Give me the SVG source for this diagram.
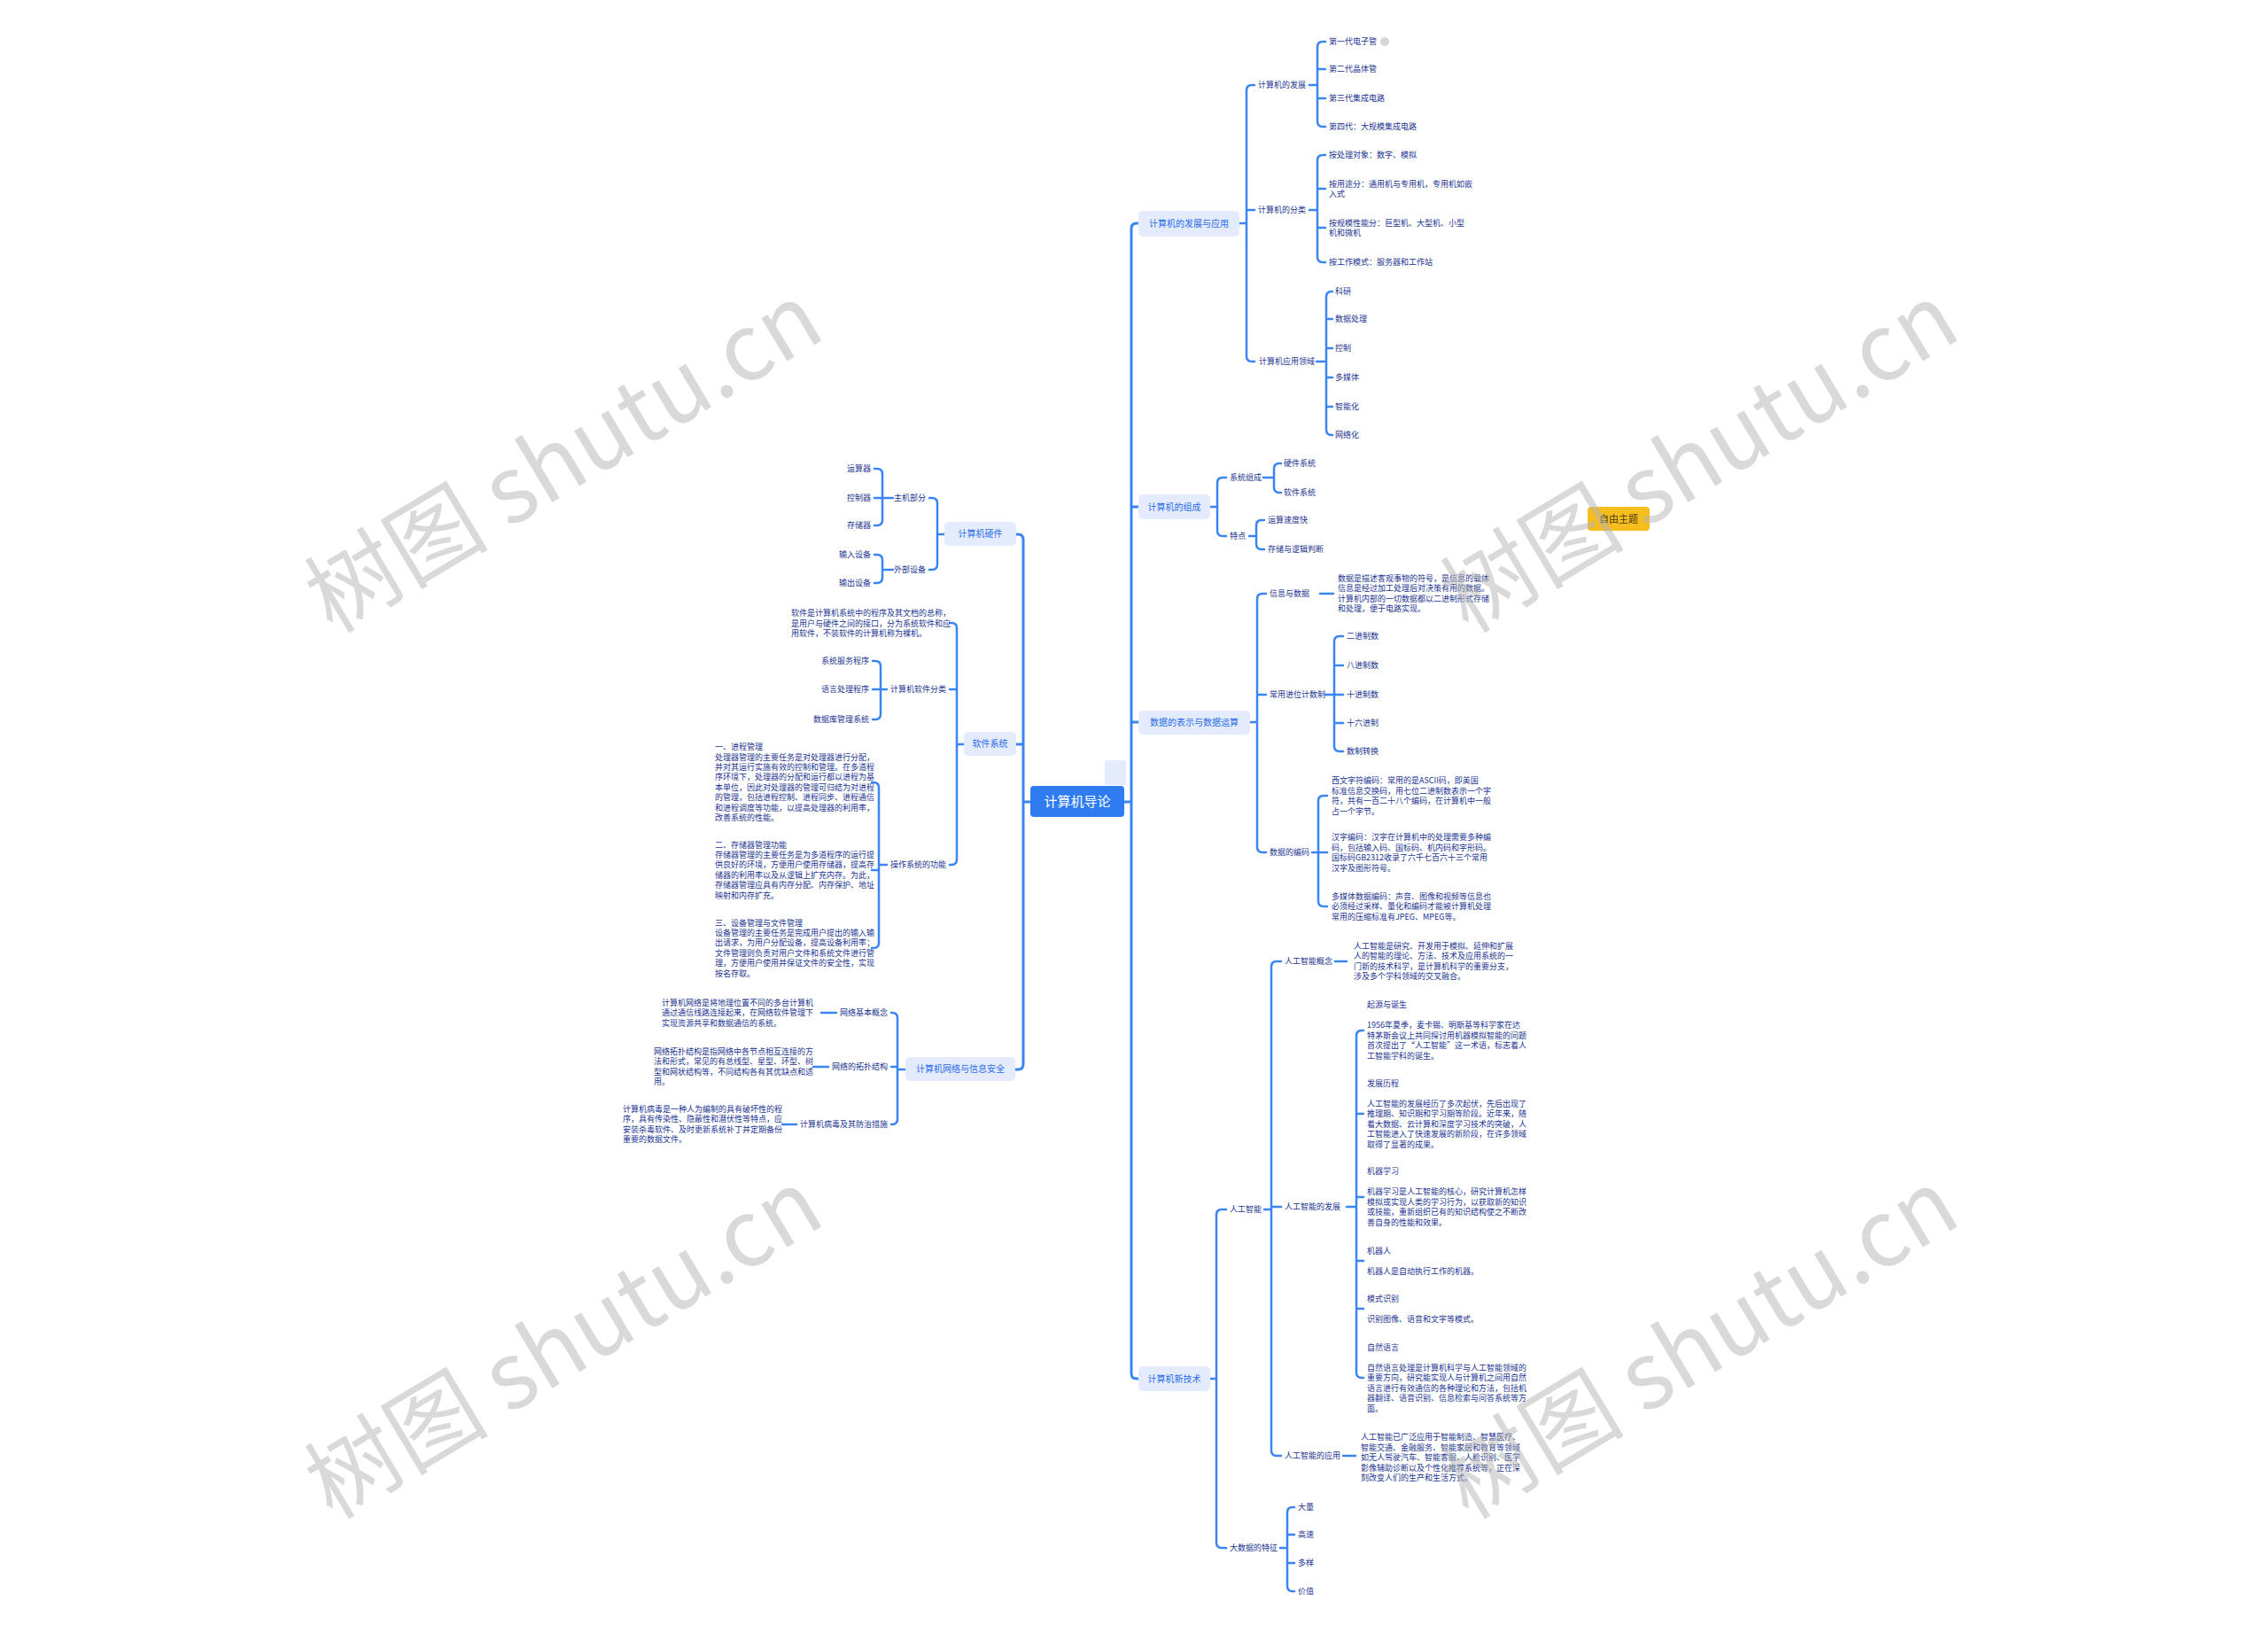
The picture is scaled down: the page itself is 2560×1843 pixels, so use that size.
<svg xmlns="http://www.w3.org/2000/svg" width="2560" height="1843" viewBox="0 0 2560 1843">
<style>
.ln{fill:none;stroke:#3b85f2;stroke-width:2.5;stroke-linecap:round;stroke-linejoin:round}
.tr{stroke-width:3}
text{font-family:"Noto Sans CJK SC","Noto Sans",sans-serif}
.t{font-size:9px;fill:#1c3490}
.t1{font-size:10px;fill:#2c6de6}
.box{fill:#e3ebfd}
.e{text-anchor:end}
.m{text-anchor:middle}
.wm{font-size:104px;fill:#b4b4b4;fill-opacity:.5;text-anchor:middle}
</style>
<rect width="2560" height="1843" fill="#ffffff"/>
<g id="connectors">
<path class="ln tr" d="M1163,905 H1155 M1147,603 H1149 Q1155,603 1155,609 V1201 Q1155,1207 1149,1207 H1146 M1147,840 H1155"/>
<path class="ln tr" d="M1269,905 H1277 M1285,252 H1283 Q1277,252 1277,258 V1550 Q1277,1556 1283,1556 H1285 M1277,572 H1285 M1277,815 H1285"/>
<path class="ln" d="M1399,252 H1407 M1416,96 H1413 Q1407,96 1407,102 V402 Q1407,408 1413,408 H1416 M1407,237 H1416"/>
<path class="ln" d="M1478,96 H1487 M1496,47 H1493 Q1487,47 1487,53 V137 Q1487,143 1493,143 H1496 M1487,78 H1496 M1487,111 H1496"/>
<path class="ln" d="M1478,237 H1487 M1496,175 H1493 Q1487,175 1487,181 V290 Q1487,296 1493,296 H1496 M1487,213 H1496 M1487,257 H1496"/>
<path class="ln" d="M1486,408 H1497 M1504,329 H1503 Q1497,329 1497,335 V485 Q1497,491 1503,491 H1504 M1497,360 H1504 M1497,393 H1504 M1497,426 H1504 M1497,459 H1504"/>
<path class="ln" d="M1366,572 H1374 M1384,539 H1380 Q1374,539 1374,545 V599 Q1374,605 1380,605 H1384"/>
<path class="ln" d="M1426,539 H1438 M1446,523 H1444 Q1438,523 1438,529 V550 Q1438,556 1444,556 H1446"/>
<path class="ln" d="M1410,605 H1418 M1427,587 H1424 Q1418,587 1418,593 V614 Q1418,620 1424,620 H1427"/>
<path class="ln" d="M1411,815 H1419 M1429,670 H1425 Q1419,670 1419,676 V956 Q1419,962 1425,962 H1429 M1419,784 H1429"/>
<path class="ln" d="M1490,670 H1505"/>
<path class="ln" d="M1496,784 H1516 M1516,718 H1512 Q1506,718 1506,724 V842 Q1506,848 1512,848 H1516 M1506,751 H1516 M1506,816 H1516"/>
<path class="ln" d="M1481,962 H1498 M1498,898 H1494 Q1488,898 1488,904 V1017 Q1488,1023 1494,1023 H1498"/>
<path class="ln" d="M1366,1556 H1373 M1384,1365 H1379 Q1373,1365 1373,1371 V1741 Q1373,1747 1379,1747 H1384"/>
<path class="ln" d="M1427,1365 H1435 M1446,1085 H1441 Q1435,1085 1435,1091 V1637 Q1435,1643 1441,1643 H1446 M1435,1362 H1446"/>
<path class="ln" d="M1507,1085 H1520"/>
<path class="ln" d="M1520,1362 H1531 M1539,1163 H1537 Q1531,1163 1531,1169 V1549 Q1531,1555 1537,1555 H1539 M1531,1257 H1539 M1531,1351 H1539 M1531,1423 H1539 M1531,1477 H1539"/>
<path class="ln" d="M1516,1643 H1530"/>
<path class="ln" d="M1445,1747 H1453 M1461,1701 H1459 Q1453,1701 1453,1707 V1790 Q1453,1796 1459,1796 H1461 M1453,1732 H1461 M1453,1764 H1461"/>
<path class="ln" d="M1066,603 H1058 M1049,562 H1052 Q1058,562 1058,568 V637 Q1058,643 1052,643 H1049"/>
<path class="ln" d="M1008,562 H987 M987,529 H990 Q996,529 996,535 V587 Q996,593 990,593 H987"/>
<path class="ln" d="M1008,643 H996 M987,626 H990 Q996,626 996,632 V652 Q996,658 990,658 H987"/>
<path class="ln" d="M1088,840 H1080 M1072,703 H1074 Q1080,703 1080,709 V970 Q1080,976 1074,976 H1072 M1080,778 H1072"/>
<path class="ln" d="M1001,778 H985 M985,746 H988 Q994,746 994,752 V806 Q994,812 988,812 H985"/>
<path class="ln" d="M1001,976 H992 M984,883 H986 Q992,883 992,889 V1064 Q992,1070 986,1070 H984 M992,982 H984"/>
<path class="ln" d="M1022,1207 H1013 M1006,1143 H1007 Q1013,1143 1013,1149 V1263 Q1013,1269 1007,1269 H1006 M1013,1204 H1006"/>
<path class="ln" d="M944,1143 H927 M935,1204 H918 M899,1269 H883"/>
</g>

<g id="root">
<rect x="1247" y="858" width="24" height="28" rx="3" fill="#e3ebfd"/>
<rect x="1163" y="887" width="106" height="35" rx="4" fill="#2f7cf0"/>
<text class="m" x="1216" y="910.3" font-size="15" fill="#ffffff">计算机导论</text>
</g>

<g id="b1"><rect class="box" x="1285" y="238" width="114" height="29" rx="5"/><text class="t1 m" x="1342" y="255.5">计算机的发展与应用</text></g>
<g id="b1-c1"><text class="t" x="1420" y="99">计算机的发展</text></g>
<g id="b1-c1-l"><text class="t" x="1500" y="50">第一代电子管</text><circle cx="1563" cy="47" r="5" fill="#d6d6d6"/>
<text class="t" x="1500" y="81">第二代晶体管</text>
<text class="t" x="1500" y="114">第三代集成电路</text>
<text class="t" x="1500" y="146">第四代：大规模集成电路</text></g>
<g id="b1-c2"><text class="t" x="1420" y="240">计算机的分类</text></g>
<g id="b1-c2-l"><text class="t" x="1500" y="178">按处理对象：数字、模拟</text>
<text class="t" x="1500" y="210.5">按用途分：通用机与专用机，专用机如嵌<tspan x="1500" dy="11.5">入式</tspan></text>
<text class="t" x="1500" y="254.5">按规模性能分：巨型机、大型机、小型<tspan x="1500" dy="11.5">机和微机</tspan></text>
<text class="t" x="1500" y="299">按工作模式：服务器和工作站</text></g>
<g id="b1-c3"><text class="t" x="1421" y="411">计算机应用领域</text></g>
<g id="b1-c3-l"><text class="t" x="1507" y="332">科研</text>
<text class="t" x="1507" y="363">数据处理</text>
<text class="t" x="1507" y="396">控制</text>
<text class="t" x="1507" y="429">多媒体</text>
<text class="t" x="1507" y="462">智能化</text>
<text class="t" x="1507" y="494">网络化</text></g>

<g id="b2"><rect class="box" x="1285" y="558" width="81" height="28" rx="5"/><text class="t1 m" x="1325.5" y="575.5">计算机的组成</text></g>
<g id="b2-c1"><text class="t" x="1388" y="542">系统组成</text>
<text class="t" x="1449" y="526">硬件系统</text>
<text class="t" x="1449" y="559">软件系统</text></g>
<g id="b2-c2"><text class="t" x="1388" y="608">特点</text>
<text class="t" x="1431" y="590">运算速度快</text>
<text class="t" x="1431" y="623">存储与逻辑判断</text></g>
<g id="tag"><rect x="1792" y="572" width="70" height="27" rx="4" fill="#f6bd1f"/><text class="m" x="1827" y="589.5" font-size="11" fill="#4a3b10">自由主题</text></g>

<g id="b3"><rect class="box" x="1285" y="802" width="126" height="27" rx="5"/><text class="t1 m" x="1348" y="818.5">数据的表示与数据运算</text></g>
<g id="b3-c1"><text class="t" x="1433" y="673">信息与数据</text>
<text class="t" x="1510" y="655.5">数据是描述客观事物的符号，是信息的载体<tspan x="1510" dy="11.5">信息是经过加工处理后对决策有用的数据。</tspan><tspan x="1510" dy="11.5">计算机内部的一切数据都以二进制形式存储</tspan><tspan x="1510" dy="11.5">和处理，便于电路实现。</tspan></text></g>
<g id="b3-c2"><text class="t" x="1433" y="787">常用进位计数制</text>
<text class="t" x="1520" y="721">二进制数</text>
<text class="t" x="1520" y="754">八进制数</text>
<text class="t" x="1520" y="787">十进制数</text>
<text class="t" x="1520" y="819">十六进制</text>
<text class="t" x="1520" y="851">数制转换</text></g>
<g id="b3-c3"><text class="t" x="1433" y="965">数据的编码</text>
<text class="t" x="1503" y="884">西文字符编码：常用的是ASCII码，即美国<tspan x="1503" dy="11.5">标准信息交换码，用七位二进制数表示一个字</tspan><tspan x="1503" dy="11.5">符，共有一百二十八个编码，在计算机中一般</tspan><tspan x="1503" dy="11.5">占一个字节。</tspan></text>
<text class="t" x="1503" y="948">汉字编码：汉字在计算机中的处理需要多种编<tspan x="1503" dy="11.5">码，包括输入码、国标码、机内码和字形码。</tspan><tspan x="1503" dy="11.5">国标码GB2312收录了六千七百六十三个常用</tspan><tspan x="1503" dy="11.5">汉字及图形符号。</tspan></text>
<text class="t" x="1503" y="1014.5">多媒体数据编码：声音、图像和视频等信息也<tspan x="1503" dy="11.5">必须经过采样、量化和编码才能被计算机处理</tspan><tspan x="1503" dy="11.5">常用的压缩标准有JPEG、MPEG等。</tspan></text></g>

<g id="b4"><rect class="box" x="1285" y="1542" width="81" height="28" rx="5"/><text class="t1 m" x="1325.5" y="1559.5">计算机新技术</text></g>
<g id="b4-ai"><text class="t" x="1388" y="1368">人工智能</text></g>
<g id="b4-ai-a"><text class="t" x="1450" y="1088">人工智能概念</text>
<text class="t" x="1528" y="1070.5">人工智能是研究、开发用于模拟、延伸和扩展<tspan x="1528" dy="11.5">人的智能的理论、方法、技术及应用系统的一</tspan><tspan x="1528" dy="11.5">门新的技术科学，是计算机科学的重要分支，</tspan><tspan x="1528" dy="11.5">涉及多个学科领域的交叉融合。</tspan></text></g>
<g id="b4-ai-b"><text class="t" x="1450" y="1365">人工智能的发展</text>
<text class="t" x="1543" y="1137.3">起源与诞生<tspan x="1543" dy="23">1956年夏季，麦卡锡、明斯基等科学家在达</tspan><tspan x="1543" dy="11.5">特茅斯会议上共同探讨用机器模拟智能的问题</tspan><tspan x="1543" dy="11.5">首次提出了“人工智能”这一术语，标志着人</tspan><tspan x="1543" dy="11.5">工智能学科的诞生。</tspan></text>
<text class="t" x="1543" y="1225.5">发展历程<tspan x="1543" dy="23">人工智能的发展经历了多次起伏，先后出现了</tspan><tspan x="1543" dy="11.5">推理期、知识期和学习期等阶段。近年来，随</tspan><tspan x="1543" dy="11.5">着大数据、云计算和深度学习技术的突破，人</tspan><tspan x="1543" dy="11.5">工智能进入了快速发展的新阶段，在许多领域</tspan><tspan x="1543" dy="11.5">取得了显著的成果。</tspan></text>
<text class="t" x="1543" y="1325.3">机器学习<tspan x="1543" dy="23">机器学习是人工智能的核心，研究计算机怎样</tspan><tspan x="1543" dy="11.5">模拟或实现人类的学习行为，以获取新的知识</tspan><tspan x="1543" dy="11.5">或技能，重新组织已有的知识结构使之不断改</tspan><tspan x="1543" dy="11.5">善自身的性能和效果。</tspan></text>
<text class="t" x="1543" y="1414.5">机器人<tspan x="1543" dy="23">机器人是自动执行工作的机器。</tspan></text>
<text class="t" x="1543" y="1468.5">模式识别<tspan x="1543" dy="23">识别图像、语音和文字等模式。</tspan></text>
<text class="t" x="1543" y="1523.5">自然语言<tspan x="1543" dy="23">自然语言处理是计算机科学与人工智能领域的</tspan><tspan x="1543" dy="11.5">重要方向，研究能实现人与计算机之间用自然</tspan><tspan x="1543" dy="11.5">语言进行有效通信的各种理论和方法，包括机</tspan><tspan x="1543" dy="11.5">器翻译、语音识别、信息检索与问答系统等方</tspan><tspan x="1543" dy="11.5">面。</tspan></text></g>
<g id="b4-ai-c"><text class="t" x="1450" y="1646">人工智能的应用</text>
<text class="t" x="1536" y="1625">人工智能已广泛应用于智能制造、智慧医疗、<tspan x="1536" dy="11.5">智能交通、金融服务、智能家居和教育等领域</tspan><tspan x="1536" dy="11.5">如无人驾驶汽车、智能客服、人脸识别、医学</tspan><tspan x="1536" dy="11.5">影像辅助诊断以及个性化推荐系统等，正在深</tspan><tspan x="1536" dy="11.5">刻改变人们的生产和生活方式。</tspan></text></g>
<g id="b4-bd"><text class="t" x="1388" y="1750">大数据的特征</text>
<text class="t" x="1465" y="1704">大量</text>
<text class="t" x="1465" y="1735">高速</text>
<text class="t" x="1465" y="1767">多样</text>
<text class="t" x="1465" y="1799">价值</text></g>

<g id="l1"><rect class="box" x="1066" y="589" width="81" height="27" rx="5"/><text class="t1 m" x="1106.5" y="606">计算机硬件</text></g>
<g id="l1-c1"><text class="t e" x="1045" y="565">主机部分</text>
<text class="t e" x="983" y="532">运算器</text>
<text class="t e" x="983" y="565">控制器</text>
<text class="t e" x="983" y="596">存储器</text></g>
<g id="l1-c2"><text class="t e" x="1045" y="646">外部设备</text>
<text class="t e" x="983" y="629">输入设备</text>
<text class="t e" x="983" y="661">输出设备</text></g>

<g id="l2"><rect class="box" x="1088" y="826" width="59" height="27" rx="5"/><text class="t1 m" x="1117.5" y="843">软件系统</text></g>
<g id="l2-c1"><text class="t" x="893" y="695">软件是计算机系统中的程序及其文档的总称，<tspan x="893" dy="11.5">是用户与硬件之间的接口，分为系统软件和应</tspan><tspan x="893" dy="11.5">用软件，不装软件的计算机称为裸机。</tspan></text></g>
<g id="l2-c2"><text class="t e" x="1068" y="781">计算机软件分类</text>
<text class="t e" x="981" y="749">系统服务程序</text>
<text class="t e" x="981" y="781">语言处理程序</text>
<text class="t e" x="981" y="815">数据库管理系统</text></g>
<g id="l2-c3"><text class="t e" x="1068" y="979">操作系统的功能</text>
<text class="t" x="807" y="846.1">一、进程管理<tspan x="807" dy="11.4">处理器管理的主要任务是对处理器进行分配，</tspan><tspan x="807" dy="11.4">并对其运行实施有效的控制和管理。在多道程</tspan><tspan x="807" dy="11.4">序环境下，处理器的分配和运行都以进程为基</tspan><tspan x="807" dy="11.4">本单位，因此对处理器的管理可归结为对进程</tspan><tspan x="807" dy="11.4">的管理，包括进程控制、进程同步、进程通信</tspan><tspan x="807" dy="11.4">和进程调度等功能，以提高处理器的利用率，</tspan><tspan x="807" dy="11.4">改善系统的性能。</tspan></text>
<text class="t" x="807" y="956.5">二、存储器管理功能<tspan x="807" dy="11.4">存储器管理的主要任务是为多道程序的运行提</tspan><tspan x="807" dy="11.4">供良好的环境，方便用户使用存储器，提高存</tspan><tspan x="807" dy="11.4">储器的利用率以及从逻辑上扩充内存。为此，</tspan><tspan x="807" dy="11.4">存储器管理应具有内存分配、内存保护、地址</tspan><tspan x="807" dy="11.4">映射和内存扩充。</tspan></text>
<text class="t" x="807" y="1044.5">三、设备管理与文件管理<tspan x="807" dy="11.4">设备管理的主要任务是完成用户提出的输入输</tspan><tspan x="807" dy="11.4">出请求，为用户分配设备，提高设备利用率；</tspan><tspan x="807" dy="11.4">文件管理则负责对用户文件和系统文件进行管</tspan><tspan x="807" dy="11.4">理，方便用户使用并保证文件的安全性，实现</tspan><tspan x="807" dy="11.4">按名存取。</tspan></text></g>

<g id="l3"><rect class="box" x="1022" y="1193" width="124" height="27" rx="5"/><text class="t1 m" x="1084" y="1210">计算机网络与信息安全</text></g>
<g id="l3-c1"><text class="t e" x="1002" y="1146">网络基本概念</text>
<text class="t" x="747" y="1134.5">计算机网络是将地理位置不同的多台计算机<tspan x="747" dy="11.5">通过通信线路连接起来，在网络软件管理下</tspan><tspan x="747" dy="11.5">实现资源共享和数据通信的系统。</tspan></text></g>
<g id="l3-c2"><text class="t e" x="1002" y="1207">网络的拓扑结构</text>
<text class="t" x="738" y="1189.8">网络拓扑结构是指网络中各节点相互连接的方<tspan x="738" dy="11.5">法和形式，常见的有总线型、星型、环型、树</tspan><tspan x="738" dy="11.5">型和网状结构等，不同结构各有其优缺点和适</tspan><tspan x="738" dy="11.5">用。</tspan></text></g>
<g id="l3-c3"><text class="t e" x="1002" y="1272">计算机病毒及其防治措施</text>
<text class="t" x="703" y="1254.8">计算机病毒是一种人为编制的具有破坏性的程<tspan x="703" dy="11.5">序，具有传染性、隐蔽性和潜伏性等特点，应</tspan><tspan x="703" dy="11.5">安装杀毒软件、及时更新系统补丁并定期备份</tspan><tspan x="703" dy="11.5">重要的数据文件。</tspan></text></g>

<g id="watermarks">
<text class="wm" transform="translate(655,548) rotate(-31)">树图 shutu.cn</text>
<text class="wm" transform="translate(1937,548) rotate(-31)">树图 shutu.cn</text>
<text class="wm" transform="translate(655,1548) rotate(-31)">树图 shutu.cn</text>
<text class="wm" transform="translate(1937,1548) rotate(-31)">树图 shutu.cn</text>
</g>
</svg>
